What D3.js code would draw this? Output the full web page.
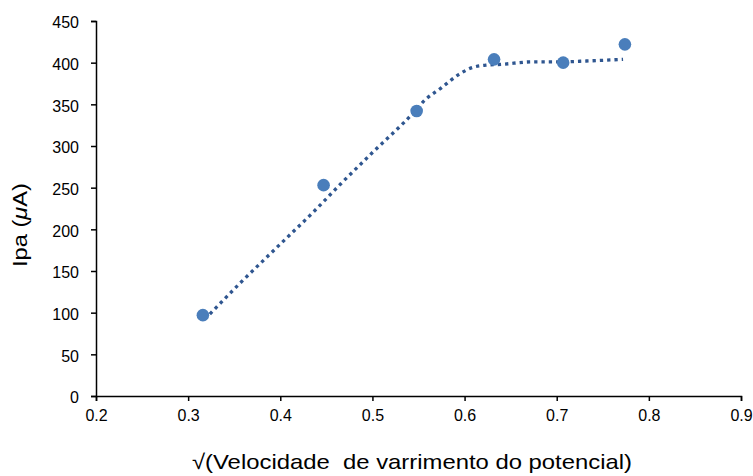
<!DOCTYPE html>
<html>
<head>
<meta charset="utf-8">
<script src="https://cdn.jsdelivr.net/npm/d3@7"></script>
<style>
  html, body { margin: 0; padding: 0; background: #fff; }
  svg { display: block; }
  text { font-family: "Liberation Sans", Arial, sans-serif; fill: #000; }
</style>
</head>
<body>
<svg id="chart" width="753" height="476"></svg>
<script>
// Square root of scan rate and anodic peak current
const sqrtScanRate = [0.316, 0.447, 0.548, 0.632, 0.707, 0.774];
const peakCurrent  = [97, 253, 342, 404, 400, 422];

// Trend curve, sampled along the fitted line
const trendX = [0.318, 0.356, 0.396, 0.437, 0.466, 0.499, 0.547, 0.555, 0.575, 0.594, 0.608, 0.623, 0.640, 0.674, 0.706, 0.732, 0.772];
const trendY = [92, 135, 178, 222, 255, 291, 343, 353, 370, 386, 394, 397, 398, 401, 401, 402, 404];

const xTicks = [0.2, 0.3, 0.4, 0.5, 0.6, 0.7, 0.8, 0.9];
const yTicks = [0, 50, 100, 150, 200, 250, 300, 350, 400, 450];

const svg = d3.select("#chart");
const plot = { left: 96, right: 741, top: 21, bottom: 396 };

const x = d3.scaleLinear().domain([0.2, 0.9]).range([plot.left, plot.right]);
const y = d3.scaleLinear().domain([0, 450]).range([plot.bottom, plot.top]);

// Axes
const xAxis = svg.append("g")
  .attr("transform", `translate(0,${plot.bottom})`)
  .call(d3.axisBottom(x).tickValues(xTicks).tickSize(5).tickPadding(9)
        .tickFormat(d3.format(".1f")));
const yAxis = svg.append("g")
  .attr("transform", `translate(${plot.left},0)`)
  .call(d3.axisLeft(y).tickValues(yTicks).tickSize(5).tickPadding(12));

[xAxis, yAxis].forEach(g => {
  g.select(".domain").attr("stroke", "#000").attr("stroke-width", 1.5);
  g.selectAll(".tick line").attr("stroke", "#000").attr("stroke-width", 1.5);
  g.selectAll(".tick text").attr("font-size", 16).attr("fill", "#000")
    .attr("font-family", "Liberation Sans, Arial, sans-serif");
});
yAxis.selectAll(".tick text").attr("dy", "0.42em");

// Trend line (dotted)
const trend = trendX.map((v, i) => [v, trendY[i]]);
svg.append("path")
  .datum(trend)
  .attr("fill", "none")
  .attr("stroke", "#2f5690")
  .attr("stroke-width", 3.3)
  .attr("stroke-dasharray", "3.3 4")
  .attr("d", d3.line().x(d => x(d[0])).y(d => y(d[1])).curve(d3.curveMonotoneX));

// Data markers
svg.append("g").selectAll("circle")
  .data(sqrtScanRate.map((v, i) => [v, peakCurrent[i]]))
  .join("circle")
  .attr("cx", d => x(d[0]))
  .attr("cy", d => y(d[1]))
  .attr("r", 6.3)
  .attr("fill", "#4a7ebb");

// Axis titles
svg.append("text")
  .attr("x", 192)
  .attr("y", 469)
  .attr("font-size", 21)
  .attr("textLength", 440)
  .attr("lengthAdjust", "spacingAndGlyphs")
  .attr("xml:space", "preserve")
  .style("white-space", "pre")
  .text("√(Velocidade  de varrimento do potencial)");

const yTitle = svg.append("text")
  .attr("transform", "translate(27,267) rotate(-90)")
  .attr("font-size", 21)
  .attr("textLength", 84)
  .attr("lengthAdjust", "spacingAndGlyphs");
yTitle.append("tspan").text("Ipa (");
yTitle.append("tspan").attr("font-style", "italic").text("μ");
yTitle.append("tspan").text("A)");
</script>
</body>
</html>
